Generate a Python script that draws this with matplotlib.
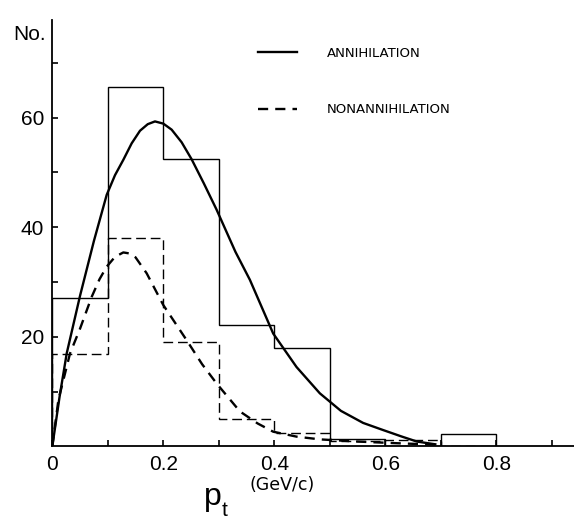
import numpy as np
import matplotlib
matplotlib.use("Agg")
import matplotlib.pyplot as plt

plt.rcParams['font.family'] = ['Liberation Sans', 'DejaVu Sans']

# histogram bins (GeV/c) and counts
edges = [0.0, 0.1, 0.2, 0.3, 0.4, 0.5, 0.6, 0.7, 0.8]
ann_counts = [27.0, 65.5, 52.4, 22.1, 18.0, 1.3, 0.0, 2.3]
non_counts = [16.9, 38.0, 19.0, 5.0, 2.4, 1.0, 1.2, 0.0]

# fitted curves
ann_x = [0, 0.013, 0.026, 0.05, 0.075, 0.098, 0.113, 0.128, 0.143, 0.158, 0.172, 0.185,
         0.2, 0.215, 0.233, 0.251, 0.273, 0.296, 0.33, 0.356, 0.398, 0.44, 0.482,
         0.52, 0.56, 0.596, 0.63, 0.657, 0.69]
ann_y = [0, 9, 17, 27.5, 37.5, 45.9, 49.5, 52.3, 55.3, 57.6, 58.8, 59.3,
         58.9, 57.8, 55.5, 52.4, 48.0, 43.2, 35.5, 30.4, 20.6, 14.5, 9.7,
         6.5, 4.3, 3.0, 1.8, 0.9, 0.4]
non_x = [0, 0.011, 0.032, 0.05, 0.071, 0.085, 0.098, 0.113, 0.128, 0.14, 0.15, 0.17,
         0.2, 0.242, 0.27, 0.296, 0.338, 0.37, 0.398, 0.44, 0.482, 0.55, 0.62, 0.7]
non_y = [0, 8.5, 17, 21.5, 27.3, 30.5, 32.8, 34.6, 35.4, 35.2, 34.5, 31.6,
         25.8, 19.4, 15, 11.5, 6.4, 4.2, 2.7, 1.8, 1.3, 0.9, 0.6, 0.3]

xticks = [0, 0.1, 0.2, 0.3, 0.4, 0.5, 0.6, 0.7, 0.8, 0.9]
xlabels = ['0', '', '0.2', '', '0.4', '', '0.6', '', '0.8', '']
yticks = [10, 20, 30, 40, 50, 60, 70]
ylabels = ['', '20', '', '40', '', '60', '']

fig = plt.figure(figsize=(5.74, 5.21), dpi=100)
ax = fig.add_axes([0.0911, 0.143, 0.909, 0.8186])

ax.stairs(ann_counts, edges, color='black', lw=1.0)
ax.stairs(non_counts, edges, color='black', lw=1.0, linestyle=(0, (7, 3.5)))

ax.plot(ann_x, ann_y, color='black', lw=1.7, label='ANNIHILATION')
ax.plot(non_x, non_y, color='black', lw=1.7, linestyle=(0, (4.3, 3.0)),
        label='NONANNIHILATION')

ax.set_xlim(0, 0.94)
ax.set_ylim(0, 77.8)
for s in ['top', 'right']:
    ax.spines[s].set_visible(False)
for s in ['left', 'bottom']:
    ax.spines[s].set_linewidth(1.3)

ax.set_xticks(xticks)
ax.set_xticklabels(xlabels)
ax.set_yticks(yticks)
ax.set_yticklabels(ylabels)
ax.tick_params(direction='in', length=4, width=1.2, labelsize=15, pad=6)

ax.text(-0.012, 0.965, 'No.', transform=ax.transAxes, ha='right', va='center',
        fontsize=15)

fig.text(0.355, 0.03, 'p', fontsize=23, ha='left', va='baseline')
fig.text(0.386, 0.01, 't', fontsize=15, ha='left', va='baseline')
fig.text(0.434, 0.06, '(GeV/c)', fontsize=12.5, ha='left', va='baseline',
         family='DejaVu Sans')

ax.legend(loc='upper left', bbox_to_anchor=(0.394, 0.937), frameon=False,
          prop={'family': 'DejaVu Sans', 'size': 9.5}, handlelength=3.0,
          handletextpad=2.2, labelspacing=3.3, borderpad=0, borderaxespad=0)

fig.savefig('out.png', dpi=100)
